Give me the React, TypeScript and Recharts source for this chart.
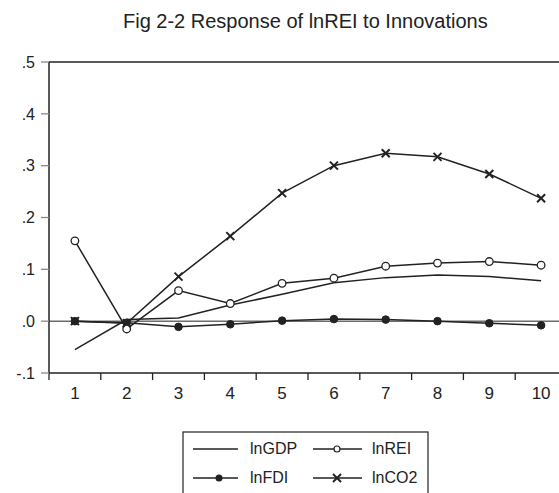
import { LineChart, Line, XAxis, YAxis, ReferenceLine } from "recharts";

const periods = [1, 2, 3, 4, 5, 6, 7, 8, 9, 10];
const lnGDP = [-0.055, 0.003, 0.006, 0.031, 0.052, 0.074, 0.084, 0.089, 0.086, 0.078];
const lnREI = [0.155, -0.015, 0.059, 0.034, 0.073, 0.083, 0.106, 0.112, 0.115, 0.108];
const lnFDI = [0.0, -0.003, -0.011, -0.006, 0.001, 0.004, 0.003, 0.0, -0.004, -0.008];
const lnCO2 = [0.0, -0.004, 0.086, 0.164, 0.247, 0.3, 0.324, 0.317, 0.284, 0.237];
const yTicks = [-0.1, 0, 0.1, 0.2, 0.3, 0.4, 0.5];
const boundaryTicks = [0.5, 1.5, 2.5, 3.5, 4.5, 5.5, 6.5, 7.5, 8.5, 9.5];

const data = periods.map((p, i) => ({
  period: p,
  lnGDP: lnGDP[i],
  lnREI: lnREI[i],
  lnFDI: lnFDI[i],
  lnCO2: lnCO2[i],
}));

const INK = "#222";
const FONT = "'Liberation Sans', Arial, sans-serif";

const fmtY = (v: number) => {
  if (v === 0) return ".0";
  return v.toFixed(1).replace("0.", ".");
};

// short tick mark hanging below the x axis at a period boundary
const BoundaryMark = (props: any) => {
  const { x1, y1, y2 } = props;
  const base = Math.max(y1, y2);
  return <line x1={x1} y1={base} x2={x1} y2={base + 7} stroke={INK} strokeWidth={1.3} />;
};

const OpenDot = (props: any) => {
  const { cx, cy } = props;
  return <circle cx={cx} cy={cy} r={3.8} fill="#fff" stroke={INK} strokeWidth={1.3} />;
};

const FilledDot = (props: any) => {
  const { cx, cy } = props;
  return <circle cx={cx} cy={cy} r={3.8} fill={INK} stroke={INK} strokeWidth={1} />;
};

const Cross = (props: any) => {
  const { cx, cy } = props;
  const s = 4;
  return (
    <g stroke={INK} strokeWidth={2}>
      <line x1={cx - s} y1={cy - s} x2={cx + s} y2={cy + s} />
      <line x1={cx - s} y1={cy + s} x2={cx + s} y2={cy - s} />
    </g>
  );
};

function LegendBox() {
  return (
    <svg
      width={248}
      height={64}
      style={{ position: "absolute", left: 182, top: 431 }}
      fontFamily={FONT}
      fontSize={16}
    >
      <rect x={1} y={1} width={245} height={70} fill="#fff" stroke={INK} strokeWidth={1.2} />
      <g stroke={INK} strokeWidth={1.5}>
        <line x1={11} y1={18} x2={56} y2={18} />
        <line x1={131} y1={18} x2={180} y2={18} />
        <line x1={11} y1={47} x2={56} y2={47} />
        <line x1={131} y1={47} x2={180} y2={47} />
      </g>
      <circle cx={155} cy={18} r={3} fill="#fff" stroke={INK} strokeWidth={1.2} />
      <circle cx={37} cy={47} r={3.5} fill={INK} />
      <g stroke={INK} strokeWidth={2}>
        <line x1={151} y1={43} x2={159} y2={51} />
        <line x1={151} y1={51} x2={159} y2={43} />
      </g>
      <g fill={INK}>
        <text x={68} y={22.5}>lnGDP</text>
        <text x={190} y={22.5}>lnREI</text>
        <text x={68} y={51.5}>lnFDI</text>
        <text x={190} y={51.5}>lnCO2</text>
      </g>
    </svg>
  );
}

export default function App() {
  return (
    <div
      style={{
        position: "absolute",
        left: 0,
        top: 0,
        width: 559,
        height: 493,
        overflow: "hidden",
        background: "#fff",
        fontFamily: FONT,
      }}
    >
      <div
        style={{
          position: "absolute",
          left: 123,
          top: 10,
          fontSize: 20,
          lineHeight: "normal",
          color: INK,
          whiteSpace: "nowrap",
        }}
      >
        Fig 2-2 Response of lnREI to Innovations
      </div>
      <div style={{ position: "absolute", left: 0, top: 0 }}>
        <LineChart
          width={600}
          height={493}
          data={data}
          margin={{ top: 62, right: 33, bottom: 90, left: 0 }}
        >
          <XAxis
            dataKey="period"
            type="number"
            domain={[0.5, 10.5]}
            ticks={periods}
            interval={0}
            height={30}
            tickLine={false}
            tickMargin={8}
            tick={{ fill: INK, fontSize: 17, fontFamily: FONT }}
            axisLine={{ stroke: INK, strokeWidth: 1.5 }}
          />
          <YAxis
            domain={[-0.1, 0.5]}
            ticks={yTicks}
            interval={0}
            width={49}
            tickSize={8}
            tickMargin={6}
            tickFormatter={fmtY}
            tick={{ fill: INK, fontSize: 16, fontFamily: FONT }}
            tickLine={{ stroke: "#888", strokeWidth: 1.3 }}
            axisLine={{ stroke: INK, strokeWidth: 1.5 }}
          />
          <ReferenceLine y={0.5} stroke={INK} strokeWidth={1.5} />
          <ReferenceLine y={0} stroke={INK} strokeWidth={1} />
          {boundaryTicks.map((b) => (
            <ReferenceLine
              key={b}
              x={b}
              shape={(p: any) => <BoundaryMark {...p} />}
              ifOverflow="visible"
            />
          ))}
          <Line
            dataKey="lnGDP"
            stroke={INK}
            strokeWidth={1.5}
            dot={false}
            isAnimationActive={false}
          />
          <Line
            dataKey="lnFDI"
            stroke={INK}
            strokeWidth={1.5}
            dot={<FilledDot />}
            isAnimationActive={false}
          />
          <Line
            dataKey="lnREI"
            stroke={INK}
            strokeWidth={1.5}
            dot={<OpenDot />}
            isAnimationActive={false}
          />
          <Line
            dataKey="lnCO2"
            stroke={INK}
            strokeWidth={1.5}
            dot={<Cross />}
            isAnimationActive={false}
          />
        </LineChart>
      </div>
      <LegendBox />
    </div>
  );
}
